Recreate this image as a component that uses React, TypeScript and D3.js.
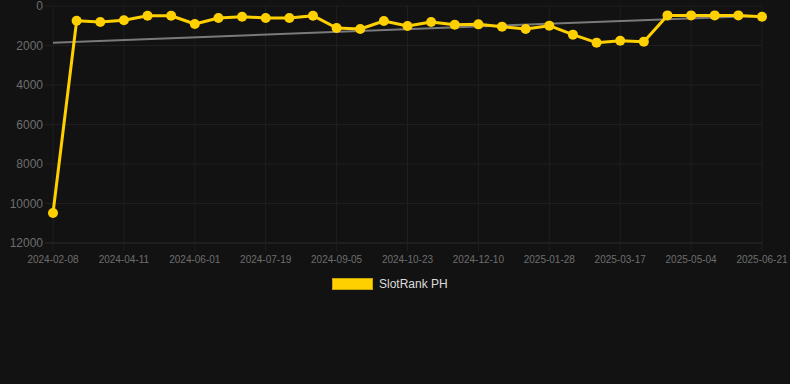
import * as d3 from "d3";

const dates = [
  "2024-02-08", "2024-03-02", "2024-03-20", "2024-04-11", "2024-04-28", "2024-05-15",
  "2024-06-01", "2024-06-17", "2024-07-03", "2024-07-19", "2024-08-04", "2024-08-20",
  "2024-09-05", "2024-09-21", "2024-10-07", "2024-10-23", "2024-11-08", "2024-11-24",
  "2024-12-10", "2024-12-26", "2025-01-12", "2025-01-28", "2025-02-13", "2025-03-01",
  "2025-03-17", "2025-04-02", "2025-04-18", "2025-05-04", "2025-05-20", "2025-06-05",
  "2025-06-21",
];

const ranks = [
  10480, 745, 810, 725, 490, 495, 910, 605, 540, 605, 605, 490,
  1115, 1165, 760, 1015, 810, 945, 930, 1045, 1165, 995, 1450, 1855,
  1755, 1805, 475, 475, 475, 475, 540,
];

// trend line end values
const trend = [1860, 490];

const yTicks = [0, 2000, 4000, 6000, 8000, 10000, 12000];
const seriesName = "SlotRank PH";

const W = 790;
const H = 384;
const gold = "#FFD000";

export default function App() {
  const x = d3.scalePoint<string>().domain(dates).range([53, 762]);
  const y = d3.scaleLinear().domain([0, 12000]).range([6, 243]);

  const xTicks = dates.filter((_, i) => i % 3 === 0);

  const line = d3
    .line<number>()
    .x((_, i) => x(dates[i]) as number)
    .y((d) => y(d));

  const first = dates[0];
  const last = dates[dates.length - 1];

  return (
    <div style={{ position: "fixed", left: 0, top: 0 }}>
      <svg width={W} height={H} style={{ display: "block", background: "#121212" }}>
        {/* horizontal grid */}
        {yTicks.map((t) => (
          <line
            key={"h" + t}
            x1={45}
            x2={762}
            y1={y(t)}
            y2={y(t)}
            stroke={t === 12000 ? "#2c2c2c" : "#1f1f1f"}
            strokeWidth={1}
          />
        ))}
        {/* vertical grid */}
        {xTicks.map((d) => (
          <line
            key={"v" + d}
            x1={x(d)}
            x2={x(d)}
            y1={y(0)}
            y2={251}
            stroke="#1f1f1f"
            strokeWidth={1}
          />
        ))}

        {yTicks.map((t) => (
          <text
            key={"yl" + t}
            x={43}
            y={y(t)}
            dy="0.35em"
            textAnchor="end"
            fill="#6e6e6e"
            fontFamily="'Liberation Sans', Arial, sans-serif"
            fontSize={12}
          >
            {t}
          </text>
        ))}

        {xTicks.map((d) => (
          <text
            key={"xl" + d}
            x={x(d)}
            y={259}
            dy="0.35em"
            textAnchor="middle"
            fill="#6e6e6e"
            fontFamily="'Liberation Sans', Arial, sans-serif"
            fontSize={10}
          >
            {d}
          </text>
        ))}

        {/* trend */}
        <line
          x1={x(first)}
          x2={x(last)}
          y1={y(trend[0])}
          y2={y(trend[1])}
          stroke="#7a7a7a"
          strokeWidth={2}
        />

        <path d={line(ranks) || ""} fill="none" stroke={gold} strokeWidth={3} strokeLinejoin="round" />
        {ranks.map((v, i) => (
          <circle key={"p" + i} cx={x(dates[i])} cy={y(v)} r={5} fill={gold} />
        ))}

        {/* legend */}
        <rect x={332.5} y={278.5} width={40} height={11} fill={gold} stroke="#c9a400" strokeWidth={1} />
        <text
          x={379}
          y={284}
          dy="0.35em"
          fill="#dcdcdc"
          fontFamily="'Liberation Sans', Arial, sans-serif"
          fontSize={12}
        >
          {seriesName}
        </text>
      </svg>
    </div>
  );
}
